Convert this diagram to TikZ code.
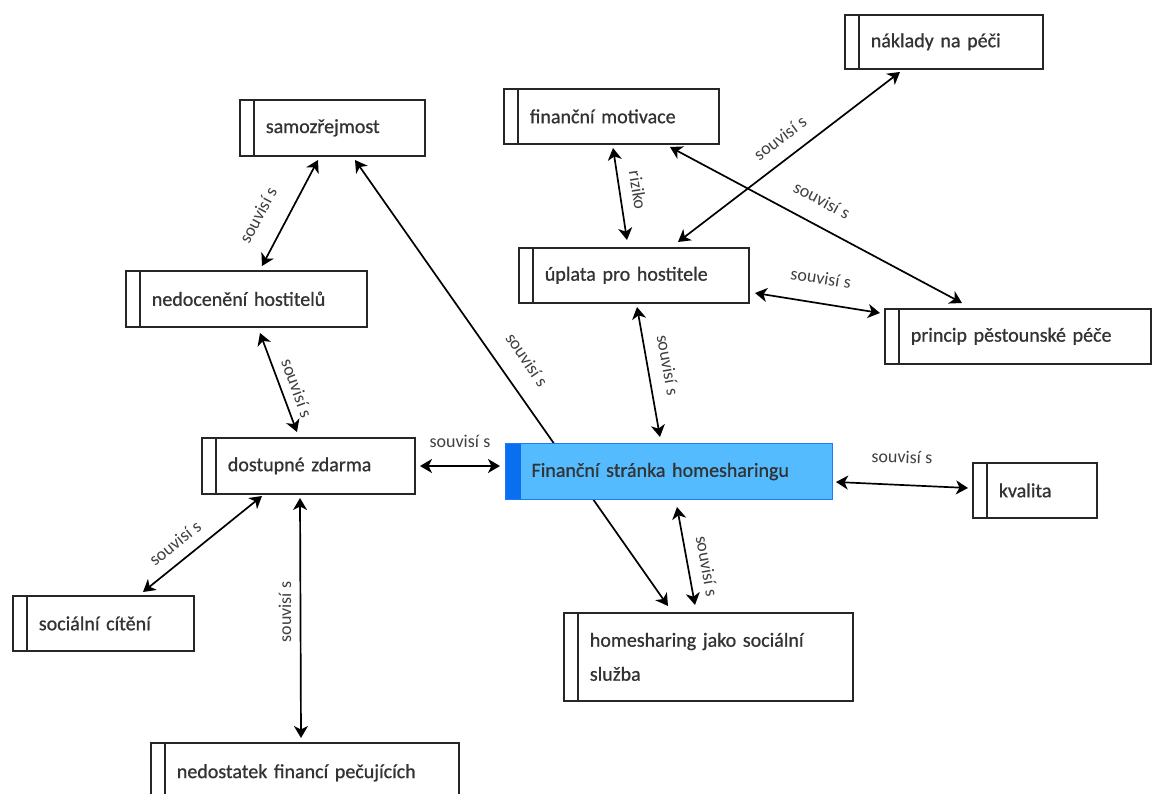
\documentclass[tikz,border=0pt]{standalone}
\usepackage{fontspec}
\setmainfont{Carlito}
\newfontfamily\boxfont{Carlito}[WordSpace=0.55,FakeBold=0.8]
\newfontfamily\lblfont{Carlito}[WordSpace=1.1]
\usetikzlibrary{arrows.meta}
\definecolor{finfill}{RGB}{84,187,255}
\definecolor{finstripe}{RGB}{10,110,240}
\definecolor{finborder}{RGB}{30,120,255}
\pgfdeclarelayer{bg}
\pgfsetlayers{bg,main}
\tikzset{
  box/.style={draw=black!85, line width=1.7pt, anchor=north west, align=left,
    inner sep=0pt, font=\boxfont\fontsize{20}{34}\selectfont, text=black!80,
    path picture={\draw[line width=1.7pt, black!85]
      ([xshift=14pt]path picture bounding box.north west) --
      ([xshift=14pt]path picture bounding box.south west);}},
  finbox/.style={draw=finborder, fill=finfill, line width=1.2pt, anchor=north west, align=left,
    inner sep=0pt, font=\boxfont\fontsize{20}{34}\selectfont, text=black!80,
    path picture={\fill[finstripe]
      (path picture bounding box.north west) rectangle
      ([xshift=15pt]path picture bounding box.south west);}},
  link/.style={line width=1.7pt, black,
    {Stealth[length=12pt,width=14pt,inset=3.5pt]}-{Stealth[length=12pt,width=14pt,inset=3.5pt]}},
  lbl/.style={font=\lblfont\fontsize{18}{18}\selectfont, text=black!75, inner sep=1pt}
}
\begin{document}
\begin{tikzpicture}[x=1pt,y=-1pt]
\useasboundingbox (0,0) rectangle (1152,794);

% boxes
\node[box, minimum width=185pt, minimum height=56pt, text width=133pt] (samo) at (239,99) {samozřejmost};
\node[box, minimum width=198pt, minimum height=54pt, text width=146pt] (nakl) at (844,14) {náklady na péči};
\node[box, minimum width=215pt, minimum height=55pt, text width=163pt] (motiv) at (503,88) {finanční motivace};
\node[box, minimum width=230pt, minimum height=55pt, text width=178pt] (upl) at (518,247) {úplata pro hostitele};
\node[box, minimum width=266pt, minimum height=55pt, text width=214pt] (princ) at (884,308) {princip pěstounské péče};
\node[box, minimum width=241pt, minimum height=56pt, text width=189pt] (nedoc) at (125,270) {nedocenění hostitelů};
\node[box, minimum width=213pt, minimum height=56pt, text width=161pt] (dost) at (201,437) {dostupné zdarma};
\node[finbox, minimum width=327pt, minimum height=56pt, text width=275pt] (fin) at (505,443) {Finanční stránka homesharingu};
\node[box, minimum width=124pt, minimum height=55pt, text width=72pt] (kval) at (972,462) {kvalita};
\node[box, minimum width=181pt, minimum height=55pt, text width=129pt] (soc) at (12,595) {sociální cítění};
\node[box, minimum width=289pt, minimum height=88pt, text width=237pt] (home) at (563,612) {homesharing jako sociální\\služba};
\node[box, minimum width=308pt, minimum height=60pt, text width=256pt] (nedost) at (150,742) {nedostatek financí pečujících};

% connectors
\begin{pgfonlayer}{bg}
\fill[white] (0,0) rectangle (1152,794);
\draw[link] ([shift={(79,61)}]samo.north west) -- ([shift={(137,-4)}]nedoc.north west);
\draw[link] ([shift={(135,63)}]nedoc.north west) -- ([shift={(96,-5)}]dost.north west);
\draw[link] ([shift={(219,29)}]dost.north west) -- ([shift={(-5,23)}]fin.north west);
\draw[link] ([shift={(61,59)}]dost.north west) -- ([shift={(131,-3)}]soc.north west);
\draw[link] ([shift={(99,61)}]dost.north west) -- ([shift={(151,-4)}]nedost.north west);
\draw[link] ([shift={(116,61)}]samo.north west) -- ([shift={(105,-6)}]home.north west);
\draw[link] ([shift={(172,64)}]fin.north west) -- ([shift={(132,-7)}]home.north west);
\draw[link] ([shift={(331,39)}]fin.north west) -- ([shift={(-4,26)}]kval.north west);
\draw[link] ([shift={(119,60)}]upl.north west) -- ([shift={(155,-6)}]fin.north west);
\draw[link] ([shift={(237,46)}]upl.north west) -- ([shift={(-4,5)}]princ.north west);
\draw[link] ([shift={(110,60)}]motiv.north west) -- ([shift={(109,-7)}]upl.north west);
\draw[link] ([shift={(167,59)}]motiv.north west) -- ([shift={(78,-5)}]princ.north west);
\draw[link] ([shift={(56,58)}]nakl.north west) -- ([shift={(160,-5)}]upl.north west);
\end{pgfonlayer}

% labels
\node[lbl, rotate=62] (l1) at (258,215) {souvisí s};
\node[lbl, rotate=-70] (l2) at (297,388) {souvisí s};
\node[lbl] (l3) at (460,441) {souvisí s};
\node[lbl, rotate=39] (l4) at (175,543) {souvisí s};
\node[lbl, rotate=90] (l5) at (285,612) {souvisí s};
\node[lbl, rotate=-56] (l6) at (527,360) {souvisí s};
\node[lbl, rotate=-80] (l7) at (707,566) {souvisí s};
\node[lbl, rotate=-2] (l8) at (902,457) {souvisí s};
\node[lbl, rotate=-80] (l9) at (668,365) {souvisí s};
\node[lbl, rotate=-9] (l10) at (821,278) {souvisí s};
\node[lbl, rotate=-81] (l11) at (638,190) {riziko};
\node[lbl, rotate=-28] (l12) at (822,200) {souvisí s};
\node[lbl, rotate=37] (l13) at (780,138) {souvisí s};
\end{tikzpicture}
\end{document}
